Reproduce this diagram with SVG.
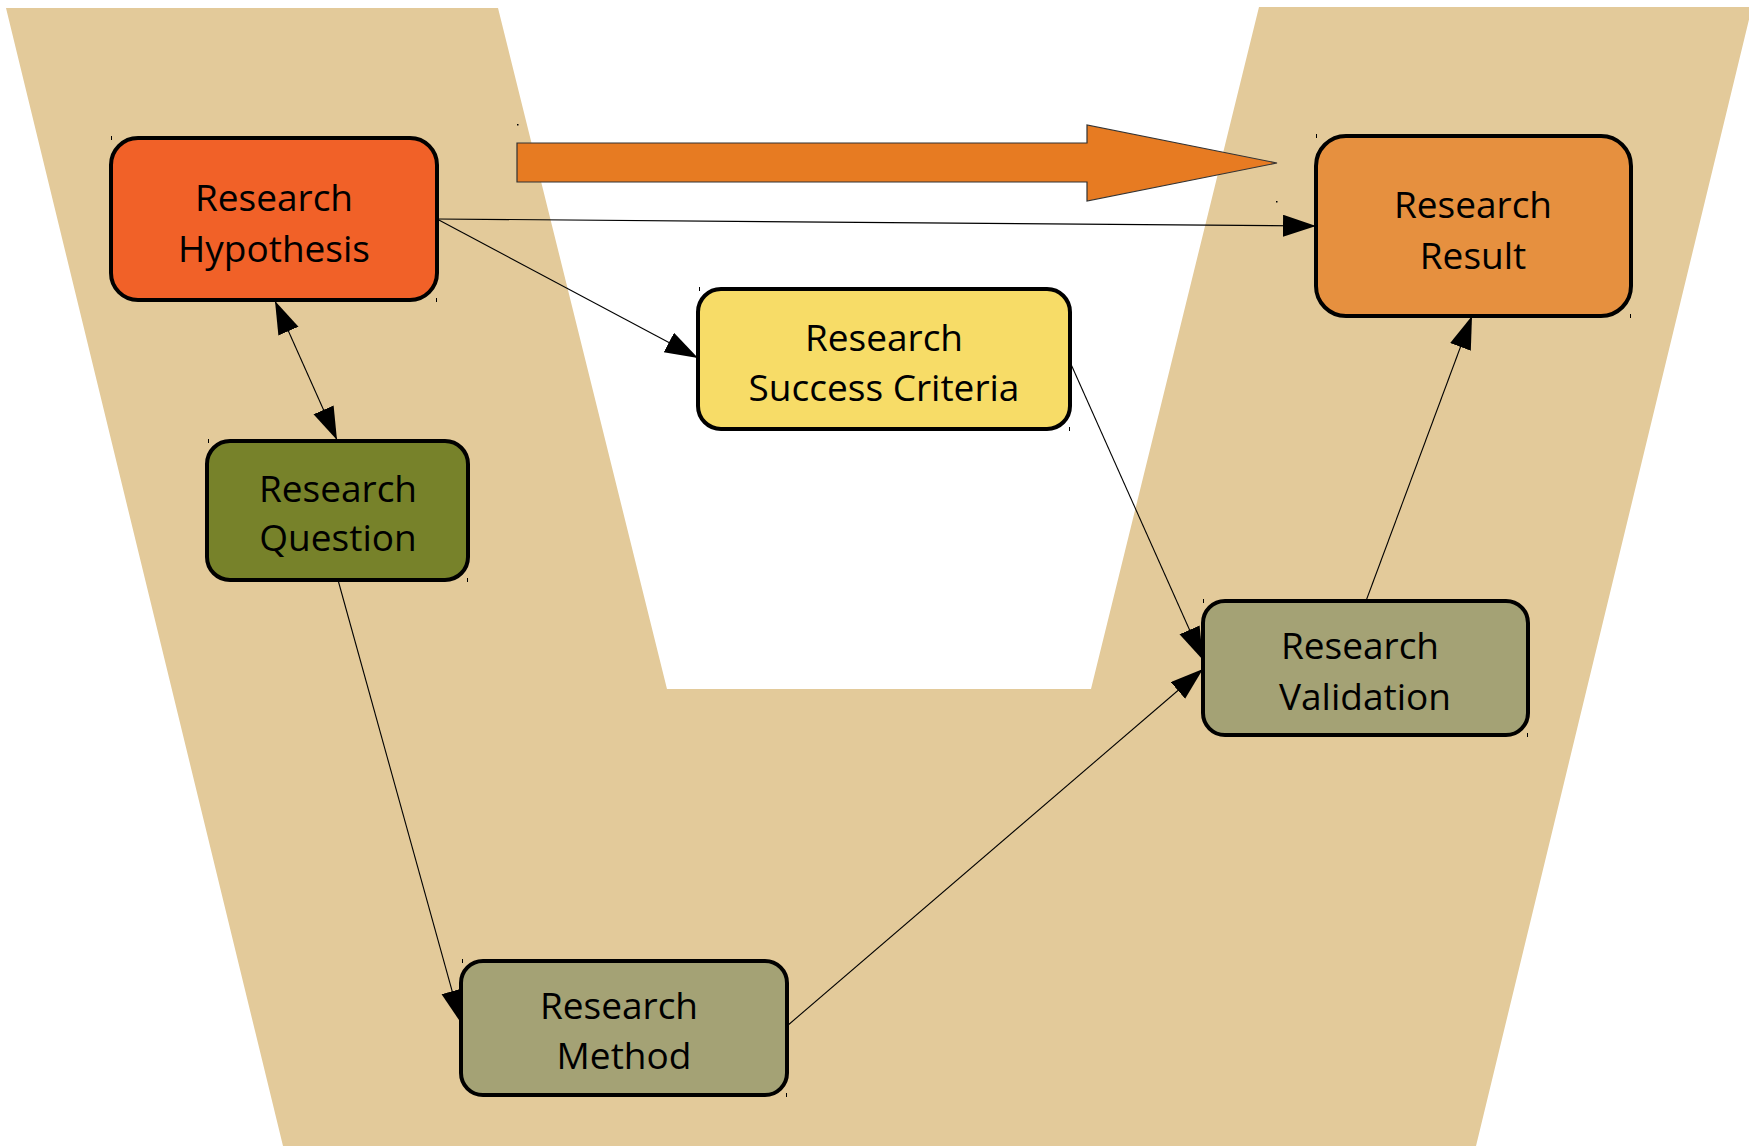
<svg xmlns="http://www.w3.org/2000/svg" width="1749" height="1146" viewBox="0 0 1749 1146">
<style>
.box{stroke:#000;stroke-width:4}
.lbl{font-family:"Open Sans","Liberation Sans",sans-serif;font-size:37px;fill:#000;text-anchor:middle}
.conn{stroke:#000;stroke-width:1.1;fill:none}
.tick{stroke:#000;stroke-width:1}
</style>
<defs>
<marker id="ah" markerUnits="userSpaceOnUse" markerWidth="34" markerHeight="24" refX="33" refY="11" orient="auto-start-reverse" viewBox="0 0 34 24">
<path d="M0,0 L33,11 L0,22 z" fill="#000"/>
</marker>
</defs>
<rect width="1749" height="1146" fill="#fff"/>
<polygon id="background-v" points="6,8 498,8 667,689 1091,689 1259,7 1752,7 1476,1146 283,1146" fill="#E3CA9A"/>
<g id="big-arrow">
<polygon points="517,143 1087,143 1087,125 1277,163 1087,201 1087,182 517,182" fill="#E77B22" stroke="#333" stroke-width="1.2"/>
</g>
<g id="connectors">
<line class="conn" x1="437" y1="219" x2="1316" y2="226" marker-end="url(#ah)"/>
<line class="conn" x1="437" y1="219" x2="698" y2="358" marker-end="url(#ah)"/>
<line class="conn" x1="275" y1="301" x2="337" y2="440" marker-start="url(#ah)" marker-end="url(#ah)"/>
<line class="conn" x1="338" y1="580" x2="461" y2="1023" marker-end="url(#ah)"/>
<line class="conn" x1="787" y1="1026" x2="1203" y2="669" marker-end="url(#ah)"/>
<line class="conn" x1="1070" y1="362" x2="1203" y2="660" marker-end="url(#ah)"/>
<line class="conn" x1="1366" y1="601" x2="1472" y2="316" marker-end="url(#ah)"/>
</g>
<g id="node-hypothesis">
<rect class="box" x="111" y="138" width="326" height="162" rx="27" fill="#F16128"/>
<text class="lbl" x="274" y="211">Research</text>
<text class="lbl" x="274" y="262">Hypothesis</text>
</g>
<g id="node-result">
<rect class="box" x="1316" y="136" width="315" height="180" rx="30" fill="#E6903F"/>
<text class="lbl" x="1473" y="218">Research</text>
<text class="lbl" x="1473" y="269">Result</text>
</g>
<g id="node-criteria">
<rect class="box" x="698" y="289" width="372" height="140" rx="23" fill="#F7DC67"/>
<text class="lbl" x="884" y="351">Research</text>
<text class="lbl" x="884" y="401">Success Criteria</text>
</g>
<g id="node-question">
<rect class="box" x="207" y="441" width="261" height="139" rx="23" fill="#77822A"/>
<text class="lbl" x="338" y="502">Research</text>
<text class="lbl" x="338" y="551">Question</text>
</g>
<g id="node-validation">
<rect class="box" x="1203" y="601" width="325" height="134" rx="22" fill="#A4A275"/>
<text class="lbl" x="1360" y="659">Research</text>
<text class="lbl" x="1365" y="710">Validation</text>
</g>
<g id="node-method">
<rect class="box" x="461" y="961" width="326" height="134" rx="22" fill="#A4A275"/>
<text class="lbl" x="619" y="1019">Research</text>
<text class="lbl" x="624" y="1069">Method</text>
</g>
<g id="handles">
<line class="tick" x1="111.5" y1="136" x2="111.5" y2="140"/>
<line class="tick" x1="436.5" y1="298" x2="436.5" y2="302"/>
<line class="tick" x1="1316.5" y1="134" x2="1316.5" y2="138"/>
<line class="tick" x1="1630.5" y1="314" x2="1630.5" y2="318"/>
<line class="tick" x1="699.5" y1="287" x2="699.5" y2="291"/>
<line class="tick" x1="1069.5" y1="427" x2="1069.5" y2="431"/>
<line class="tick" x1="208.5" y1="439" x2="208.5" y2="443"/>
<line class="tick" x1="467.5" y1="578" x2="467.5" y2="582"/>
<line class="tick" x1="1203.5" y1="599" x2="1203.5" y2="603"/>
<line class="tick" x1="1527.5" y1="733" x2="1527.5" y2="737"/>
<line class="tick" x1="462.5" y1="959" x2="462.5" y2="963"/>
<line class="tick" x1="786.5" y1="1093" x2="786.5" y2="1097"/>
<rect x="517" y="124" width="1.5" height="1.5" fill="#000"/>
<rect x="1276" y="201" width="1.5" height="1.5" fill="#000"/>
</g>
</svg>
